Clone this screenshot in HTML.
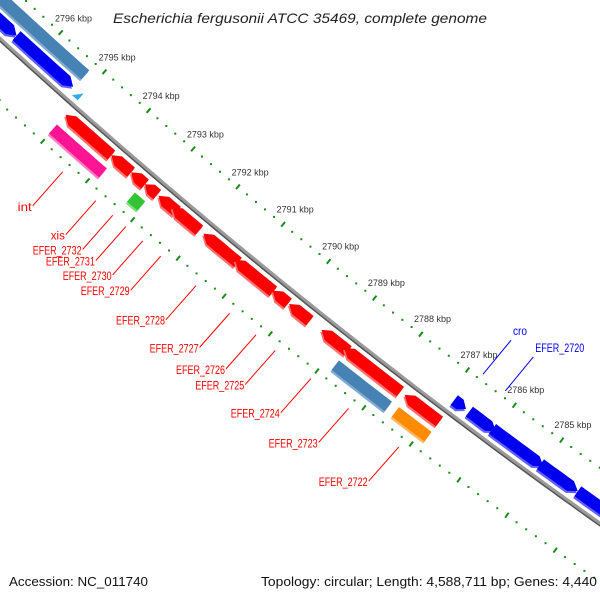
<!DOCTYPE html>
<html><head><meta charset="utf-8"><style>
html,body{margin:0;padding:0;background:#fff;}
svg{display:block;font-family:"Liberation Sans",sans-serif;}
</style></head><body>
<svg id="map" xmlns="http://www.w3.org/2000/svg" width="600" height="600" viewBox="0 0 600 600">
<rect width="600" height="600" fill="#fff"/>
<g id="rings"></g>
<g id="backbone"></g>
<g id="features"></g>
<g id="labels"></g>
<text x="113" y="23" font-size="14" font-style="italic" fill="#222" textLength="374" lengthAdjust="spacingAndGlyphs">Escherichia fergusonii ATCC 35469, complete genome</text>
<text x="9" y="586" font-size="13" fill="#111" textLength="139" lengthAdjust="spacingAndGlyphs">Accession: NC_011740</text>
<text x="597" y="586" font-size="13" fill="#111" text-anchor="end" textLength="336" lengthAdjust="spacingAndGlyphs">Topology: circular; Length: 4,588,711 bp; Genes: 4,440</text>
</svg>
<script>
// ---- data (kbp) ----
const geneStart = [2797.6, 2796.52, 2797.6, 2796.45, 2795.01, 2793.98, 2793.54, 2793.23, 2792.93, 2792.63, 2791.94, 2791.25, 2790.43, 2790.07, 2789.37, 2788.88, 2787.59, 2795.01, 2793.27, 2788.82, 2787.54, 2786.87, 2786.55, 2786.06, 2785.05, 2784.27];
const geneEnd   = [2796.52, 2795.23, 2796.45, 2795.21, 2793.98, 2793.54, 2793.23, 2792.96, 2792.52, 2792.03, 2791.18, 2790.41, 2790.09, 2789.62, 2788.80, 2787.68, 2786.85, 2793.89, 2793.04, 2787.69, 2786.85, 2786.62, 2785.99, 2784.99, 2784.27, 2783.3];
const geneLane  = [-13, -13, -30, -30, 13, 13, 13, 13, 13, 13, 13, 13, 13, 13, 13, 13, 13, 32, 32, 32, 32, -13, -13, -13, -13, -13];
const geneDir   = [1, 1, 0, 0, -1, -1, -1, -1, -1, -1, -1, -1, -1, -1, -1, -1, -1, 0, 0, 0, 0, 1, 1, 1, 1, 1];
const geneKind  = ["blue","blue","steel","steel","red","red","red","red","red","red","red","red","red","red","red","red","red","pink","green","steel","orange","blue","blue","blue","blue","blue"];
const geneLabel = ["","","","","int","xis","EFER_2732","EFER_2731","EFER_2730","EFER_2729","EFER_2728","EFER_2727","EFER_2726","EFER_2725","EFER_2724","EFER_2723","EFER_2722","","","","","cro","EFER_2720","","",""];
const tickKbp = [2784,2785,2786,2787,2788,2789,2790,2791,2792,2793,2794,2795,2796,2797];
const tickLabels = ["2784 kbp","2785 kbp","2786 kbp","2787 kbp","2788 kbp","2789 kbp","2790 kbp","2791 kbp","2792 kbp","2793 kbp","2794 kbp","2795 kbp","2796 kbp","2797 kbp"];

// ---- geometry ----
const CX = 4181, CY = -4521, R = 6186;
const A0 = 132.14, DEG_PER_KBP = 0.548;
function ang(k){ return (A0 - (2796 - k) * DEG_PER_KBP) * Math.PI / 180; }
function P(k, r){ const a = ang(k); return [CX + r * Math.cos(a), CY + r * Math.sin(a)]; }
function arcPts(k1, k2, r){ const n = Math.max(2, Math.ceil(Math.abs(k1 - k2) * 8)); const o = []; for (let i = 0; i <= n; i++){ o.push(P(k1 + (k2 - k1) * i / n, r)); } return o; }
const NS = "http://www.w3.org/2000/svg";
function mk(tag, attrs, parent){ const e = document.createElementNS(NS, tag); for (const k in attrs) e.setAttribute(k, attrs[k]); parent.appendChild(e); return e; }
const fmt = pts => pts.map(p => p[0].toFixed(1) + "," + p[1].toFixed(1)).join(" ");

// backbone
const bb = document.getElementById("backbone");
let e = mk("polyline", {points: fmt(arcPts(2798.5, 2782.5, R + 1.5)), fill: "none", stroke: "#555", "stroke-width": 3}, bb);


e = mk("polyline", {points: fmt(arcPts(2798.5, 2782.5, R)), fill: "none", stroke: "#9a9a9a", "stroke-width": 3}, bb);



// tick rings
const rings = document.getElementById("rings");
[R - 45, R + 48].forEach((rr) => {
  for (let t = 27830; t <= 27980; t += 2){
    const k = t / 10;
    if (t % 10 === 0){
      const a = P(k, rr - 3), b = P(k, rr + 3);
      e = mk("line", {x1: a[0], y1: a[1], x2: b[0], y2: b[1], stroke: "#1a8a1a", "stroke-width": 2}, rings);
      
      
    } else {
      const a = P(k, rr);
      e = mk("rect", {x: a[0] - 1, y: a[1] - 1, width: 2, height: 2, fill: "#1a8a1a"}, rings);
      
      
    }
  }
});
tickKbp.forEach((k, i) => {
  const p = P(k, R - 64);
  e = mk("text", {x: p[0].toFixed(1), y: (p[1] + 3).toFixed(1), "font-size": 9, fill: "#333", "text-anchor": "middle"}, rings);
  e.textContent = tickLabels[i];
  
  
});

// features
const fill = {red: "#ff0000", blue: "#0000f0", steel: "#4682b4", pink: "#ff1493", green: "#33c433", orange: "#ff8c00"};
const light = {red: "#ff7070", blue: "#6060ff", steel: "#80acd4", pink: "#ff80c0", green: "#80e080", orange: "#ffb860"};
const feat = document.getElementById("features");
function shape(k1, k2, lane, dir){
  const h = 6, head = Math.min(0.15, Math.abs(k1 - k2) * 0.5);
  if (dir === 0){
    return arcPts(k1, k2, lane - h).concat(arcPts(k2, k1, lane + h));
  }
  if (dir === -1){
    const kb = k1 - head;
    return [P(k1, lane)].concat(arcPts(kb, k2, lane - h), arcPts(k2, kb, lane + h));
  }
  const kb = k2 + head;
  return arcPts(k1, kb, lane - h).concat([P(k2, lane)], arcPts(kb, k1, lane + h));
}
geneStart.forEach((s, i) => {
  const pts = shape(s, geneEnd[i], R + geneLane[i], geneDir[i]);
  const g = mk("g", {}, feat);
  
  
  const sh = pts.map(p => [p[0] - 1.2, p[1] + 2]);
  e = mk("polygon", {points: fmt(sh), fill: light[geneKind[i]]}, g);
  
  
  e = mk("polygon", {points: fmt(pts), fill: fill[geneKind[i]]}, g);
  
  
});
const tri = [P(2795.15, R - 6), P(2795.02, R - 6), P(2795.02, R - 15)];
e = mk("polygon", {points: fmt(tri), fill: "#33aaee"}, feat);



// labels
const lab = document.getElementById("labels");
geneLabel.forEach((t, i) => {
  if (!t) return;
  const mid = (geneStart[i] + geneEnd[i]) / 2;
  const g = mk("g", {}, lab);
  
  
  const w = t.length > 4 ? 49 : 14;
  if (geneLane[i] > 0){
    const a0 = P(mid, R + 58), a = [a0[0] + 4, a0[1] + 3], b = [a[0] - 30, a[1] + 34];
    e = mk("line", {x1: a[0], y1: a[1], x2: b[0], y2: b[1], stroke: "#ff0000", "stroke-width": 1}, g);
    
    
    e = mk("text", {x: (b[0] - 1 - w).toFixed(1), y: (b[1] + 5).toFixed(1), "font-size": 12, fill: "#ff0000", textLength: w, lengthAdjust: "spacingAndGlyphs"}, g);
    e.textContent = t;
    
    
  } else {
    const a = P(mid, R - 51), b = [a[0] + 28, a[1] - 34];
    e = mk("line", {x1: a[0], y1: a[1], x2: b[0], y2: b[1], stroke: "#0000ff", "stroke-width": 1}, g);
    
    
    e = mk("text", {x: (b[0] + 2).toFixed(1), y: (b[1] - 5).toFixed(1), "font-size": 12, fill: "#0000ff", textLength: w, lengthAdjust: "spacingAndGlyphs"}, g);
    e.textContent = t;
    
    
  }
});
</script>
</body></html>
